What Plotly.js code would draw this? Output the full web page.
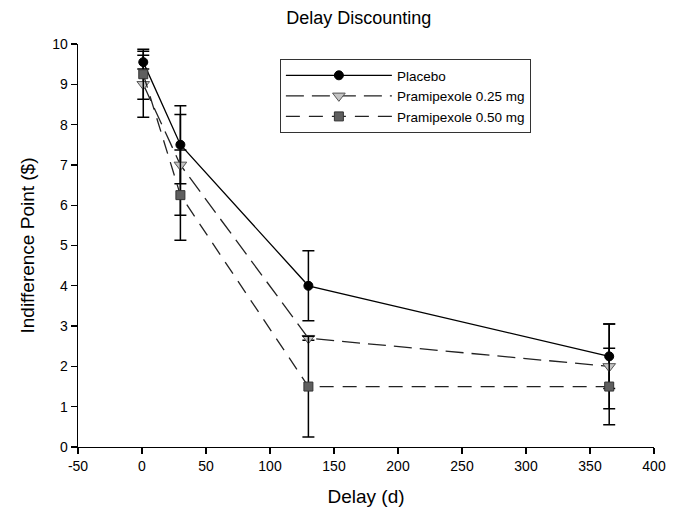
<!DOCTYPE html>
<html>
<head>
<meta charset="utf-8">
<script src="https://cdn.plot.ly/plotly-3.0.1.min.js"></script>
<style>html,body{margin:0;padding:0;background:#fff;}#chart{width:677px;height:508px;}</style>
</head>
<body>
<div id="chart"></div>
<script>
// Data
var delayDays = [1, 30, 130, 365];
var seriesNames = ["Placebo", "Pramipexole 0.25 mg", "Pramipexole 0.50 mg"];
var placebo = [9.55, 7.5, 4.0, 2.25];
var placeboErr = [0.17, 0.97, 0.87, 0.8];
var prami025 = [9.0, 7.0, 2.7, 2.0];
var prami025Err = [0.82, 1.25, 0.05, 1.05];
var prami050 = [9.25, 6.25, 1.5, 1.5];
var prami050Err = [0.62, 1.12, 1.25, 0.95];
var xTicks = [-50, 0, 50, 100, 150, 200, 250, 300, 350, 400];
var yTicks = [0, 1, 2, 3, 4, 5, 6, 7, 8, 9, 10];

var font = "Liberation Sans, Arial, sans-serif";
function errBar(arr) {
  return {type: "data", array: arr, visible: true, color: "#000", thickness: 1.5, width: 6};
}
var traces = [
  {x: delayDays, y: placebo, name: seriesNames[0], type: "scatter", mode: "lines+markers",
   line: {color: "#000", width: 1.3},
   marker: {symbol: "circle", size: 9, color: "#000", line: {color: "#000", width: 1}},
   error_y: errBar(placeboErr)},
  {x: delayDays, y: prami025, name: seriesNames[1], type: "scatter", mode: "lines+markers",
   line: {color: "#222", width: 1.3, dash: "18px,8px"},
   marker: {symbol: "triangle-down", size: 11, color: "#c4c4c4", line: {color: "#555", width: 1}},
   error_y: errBar(prami025Err)},
  {x: delayDays, y: prami050, name: seriesNames[2], type: "scatter", mode: "lines+markers",
   line: {color: "#222", width: 1.3, dash: "14px,9px"},
   marker: {symbol: "square", size: 9, color: "#5f5f5f", line: {color: "#333", width: 1}},
   error_y: errBar(prami050Err)}
];

var layout = {
  width: 677, height: 508,
  margin: {l: 78.3, r: 23.3, t: 44.3, b: 61.3, pad: 0},
  paper_bgcolor: "#fff", plot_bgcolor: "#fff",
  font: {family: font, size: 14, color: "#000"},
  title: {text: "Delay Discounting", font: {family: font, size: 18, color: "#000"},
          xref: "container", yref: "container", x: 0.53, y: 0.965, xanchor: "center", yanchor: "middle"},
  xaxis: {range: [-50, 400], tickvals: xTicks, ticktext: xTicks.map(String),
          showgrid: false, zeroline: false, showline: true, linecolor: "#000", linewidth: 1.3,
          ticks: "outside", ticklen: 6, tickwidth: 1.3, tickcolor: "#000",
          tickfont: {family: font, size: 14},
          title: {text: "Delay (d)", font: {family: font, size: 19}, standoff: 16}},
  yaxis: {range: [0, 10], tickvals: yTicks, ticktext: yTicks.map(String),
          showgrid: false, zeroline: false, showline: true, linecolor: "#000", linewidth: 1.3,
          ticks: "outside", ticklen: 6, tickwidth: 1.3, tickcolor: "#000",
          tickfont: {family: font, size: 14},
          title: {text: "Indifference Point ($)", font: {family: font, size: 19}, standoff: 12}},
  showlegend: true,
  legend: {x: 0.3505, y: 0.9627, xanchor: "left", yanchor: "top",
           bordercolor: "#333", borderwidth: 1, bgcolor: "#fff",
           font: {family: font, size: 13.5}, itemwidth: 106, tracegroupgap: 0,
           itemclick: false}
};
Plotly.newPlot("chart", traces, layout, {displayModeBar: false, staticPlot: true});
</script>
</body>
</html>
